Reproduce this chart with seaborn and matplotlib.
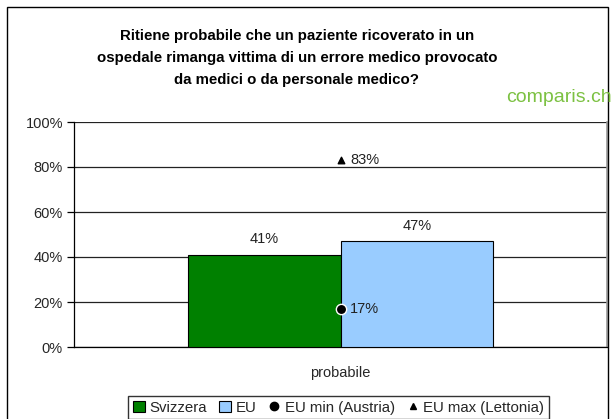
import pandas as pd
import numpy as np
import matplotlib
matplotlib.use("Agg")
import matplotlib.pyplot as plt
from matplotlib.patches import Patch, Rectangle
from matplotlib.lines import Line2D
import seaborn as sns

# dati
categorie = ["probabile"]
serie = ["Svizzera", "EU"]
valori = [41, 47]
eu_min = [17]
eu_max = [83]
etichette_y = ["0%", "20%", "40%", "60%", "80%", "100%"]
titolo = ("Ritiene probabile che un paziente ricoverato in un\n"
          "ospedale rimanga vittima di un errore medico provocato\n"
          "da medici o da personale medico?")
colori = ["#008000", "#99ccff"]

sns.set_theme(style="white")
plt.rcParams['font.family'] = ['Liberation Sans', 'DejaVu Sans']

df = pd.DataFrame({"cat": categorie * len(serie), "serie": serie, "val": valori})

W, H = 611, 419
fig = plt.figure(figsize=(W / 100, H / 100), dpi=100)
ax = fig.add_axes([74 / W, 1 - 347 / H, (607 - 74) / W, (347 - 122) / H])

sns.barplot(data=df, x="cat", y="val", hue="serie", palette=colori, width=0.572,
            edgecolor="black", linewidth=0.8, dodge=True, ax=ax, legend=False,
            saturation=1, zorder=3)

for c in ax.containers:
    ax.bar_label(c, fmt="%d%%", padding=6, fontsize=10.5, color="#222222")

# EU min / max
ax.scatter([0] * len(eu_min), eu_min, marker="o", s=55, color="black",
           edgecolor="white", linewidth=1, zorder=5)
ax.scatter([0] * len(eu_max), eu_max, marker="^", s=22, color="black", zorder=5)
for v in eu_min + eu_max:
    ax.annotate(f"{v}%", (0, v), xytext=(7, 0), textcoords="offset points",
                va="center", ha="left", fontsize=10.5, color="#222222")

ax.set_xlim(-0.5, 0.5)
ax.set_ylim(0, 100)
ax.set_yticks(np.arange(0, 101, 20))
ax.set_yticklabels(etichette_y, fontsize=10.5)
ax.yaxis.grid(True, color="#222222", linewidth=0.9)
ax.set_axisbelow(True)
ax.set_xlabel("")
ax.set_ylabel("")
ax.set_xticks([0])
ax.set_xticklabels(categorie, fontsize=10.5)
ax.tick_params(axis="x", length=0, pad=14)
ax.set_xticks([-0.5, 0.5], minor=True)
ax.tick_params(axis="x", which="minor", length=4, width=0.9, color="black")
ax.tick_params(axis="y", left=True, length=5, width=0.9, color="black", pad=3)
for s in ["left", "bottom"]:
    ax.spines[s].set_color("black")
    ax.spines[s].set_linewidth(0.9)
ax.spines["top"].set_visible(False)
ax.spines["right"].set_color("#999999")
ax.spines["right"].set_linewidth(1.2)

fig.text(297 / W, 1 - 58 / H, titolo, ha="center", va="center", fontsize=10.8,
         fontweight="bold", linespacing=1.72, color="black")
fig.text(612 / W, 1 - 97 / H, "comparis.ch", ha="right", va="center",
         fontsize=14, color="#7cc142")

# cornice esterna
fig.patches.append(Rectangle((7 / W, -0.05), (608 - 7) / W, 1.05 - 7 / H,
                             transform=fig.transFigure, fill=False,
                             edgecolor="black", linewidth=1))

handles = [Patch(facecolor=colori[0], edgecolor="black", linewidth=0.8),
           Patch(facecolor=colori[1], edgecolor="black", linewidth=0.8),
           Line2D([], [], marker="o", color="black", linestyle="", markersize=6),
           Line2D([], [], marker="^", color="black", linestyle="", markersize=5)]
nomi = ["Svizzera", "EU", "EU min (Austria)", "EU max (Lettonia)"]
leg = fig.legend(handles, nomi, loc="upper center", ncol=4,
                 bbox_to_anchor=(338.5 / W, 1 - 396 / H), fontsize=10.8,
                 frameon=True, fancybox=False, edgecolor="black",
                 handlelength=0.8, handleheight=0.8, handletextpad=0.3,
                 columnspacing=0.8, borderpad=0.3, borderaxespad=0)
leg.get_frame().set_linewidth(1)

fig.savefig("out.png", dpi=100)
